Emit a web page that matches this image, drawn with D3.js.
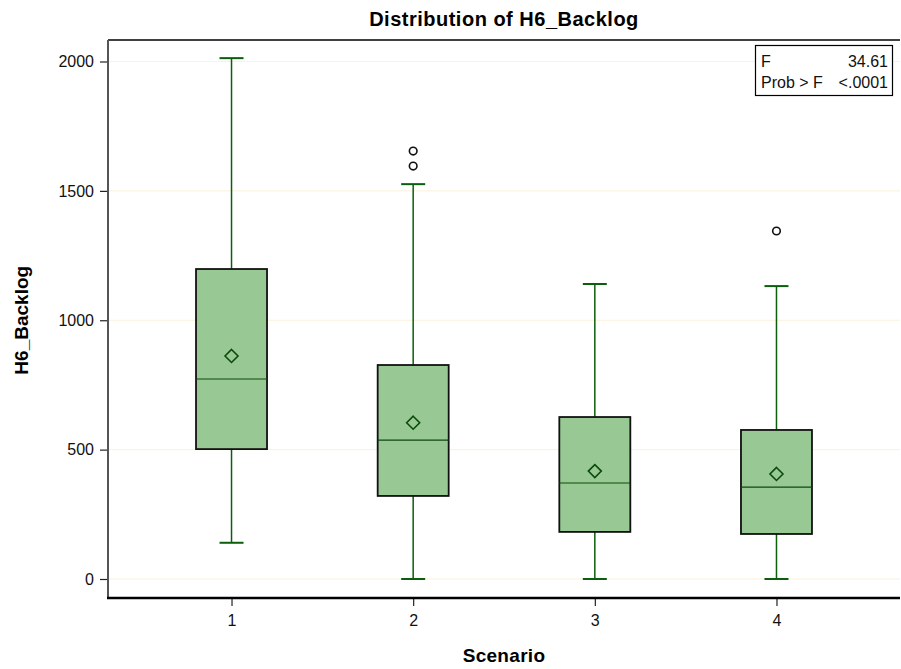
<!DOCTYPE html>
<html>
<head>
<meta charset="utf-8">
<script src="https://cdn.jsdelivr.net/npm/d3@7"></script>
<style>
  html, body { margin: 0; padding: 0; background: #fff; }
  svg { display: block; }
  text { font-family: "Liberation Sans", Arial, sans-serif; }
</style>
</head>
<body>
<svg id="chart" width="901" height="669"></svg>
<script>
// Scenario groups and their five-number summaries for H6_Backlog
const scenarios = ["1", "2", "3", "4"];
const whiskerLow  = [140, 0, 0, 0];
const q1          = [502, 321, 182, 174];
const median      = [773, 537, 371, 355];
const q3          = [1198, 827, 626, 576];
const whiskerHigh = [2013, 1526, 1140, 1132];
const means       = [862, 604, 417, 406];
const outliers    = [[], [1596, 1654], [], [1345]];
const yTicks      = [0, 500, 1000, 1500, 2000];
const anovaRows   = [["F", "34.61"], ["Prob > F", "<.0001"]];

const svg = d3.select("#chart");
const plotLeft = 108, plotRight = 900, plotTop = 40, plotBottom = 598;

const x = d3.scalePoint().domain(scenarios).range([plotLeft, plotRight]).padding(0.68);
const y = d3.scaleLinear().domain([0, 2000]).range([579, 61.5]);

// light grid lines
svg.append("g").selectAll("line").data(yTicks).join("line")
  .attr("x1", plotLeft).attr("x2", plotRight)
  .attr("y1", d => y(d)).attr("y2", d => y(d))
  .attr("stroke", "#fbf1dc").attr("stroke-width", 1);

// frame: top border and axes
svg.append("line").attr("x1", plotLeft).attr("x2", plotRight).attr("y1", plotTop).attr("y2", plotTop)
  .attr("stroke", "#000").attr("stroke-width", 1.5);

const yAxis = svg.append("g").attr("transform", `translate(${plotLeft},0)`)
  .call(d3.axisLeft(y).tickValues(yTicks).tickSize(8).tickPadding(6).tickFormat(d3.format("d")));
yAxis.select(".domain").remove();
yAxis.selectAll(".tick line").attr("stroke", "#222").attr("stroke-width", 1.2);
yAxis.selectAll(".tick text").attr("font-size", 16).attr("fill", "#111");
svg.append("line").attr("x1", plotLeft).attr("x2", plotLeft).attr("y1", plotTop).attr("y2", plotBottom)
  .attr("stroke", "#555").attr("stroke-width", 2);

const xAxis = svg.append("g").attr("transform", `translate(0,${plotBottom})`)
  .call(d3.axisBottom(x).tickSize(8).tickPadding(9));
xAxis.select(".domain").remove();
xAxis.selectAll(".tick line").attr("stroke", "#222").attr("stroke-width", 1.2);
xAxis.selectAll(".tick text").attr("font-size", 16).attr("fill", "#111");
svg.append("line").attr("x1", plotLeft - 1).attr("x2", plotRight).attr("y1", plotBottom).attr("y2", plotBottom)
  .attr("stroke", "#000").attr("stroke-width", 2.5);

// box plots
const boxW = 71;
const whiskerCap = 24;
const green = "#0b5e0b";
const g = svg.append("g");
scenarios.forEach((s, i) => {
  const cx = x(s);
  // whiskers
  g.append("line").attr("x1", cx).attr("x2", cx)
    .attr("y1", y(whiskerHigh[i])).attr("y2", y(q3[i]))
    .attr("stroke", green).attr("stroke-width", 1.5);
  g.append("line").attr("x1", cx).attr("x2", cx)
    .attr("y1", y(q1[i])).attr("y2", y(whiskerLow[i]))
    .attr("stroke", green).attr("stroke-width", 1.5);
  [whiskerHigh[i], whiskerLow[i]].forEach(v => {
    g.append("line").attr("x1", cx - whiskerCap / 2).attr("x2", cx + whiskerCap / 2)
      .attr("y1", y(v)).attr("y2", y(v))
      .attr("stroke", green).attr("stroke-width", 2);
  });
  // box
  g.append("rect").attr("x", cx - boxW / 2).attr("width", boxW)
    .attr("y", y(q3[i])).attr("height", y(q1[i]) - y(q3[i]))
    .attr("fill", "#98c995").attr("stroke", "#111").attr("stroke-width", 1.8);
  // median
  g.append("line").attr("x1", cx - boxW / 2).attr("x2", cx + boxW / 2)
    .attr("y1", y(median[i])).attr("y2", y(median[i]))
    .attr("stroke", "#0b4a0b").attr("stroke-width", 1.2);
  // mean diamond
  const my = y(means[i]), r = 6.5;
  g.append("path")
    .attr("d", `M${cx},${my - r}L${cx + r},${my}L${cx},${my + r}L${cx - r},${my}Z`)
    .attr("fill", "none").attr("stroke", "#0b4a0b").attr("stroke-width", 1.6);
  // outliers
  outliers[i].forEach(v => {
    g.append("circle").attr("cx", cx).attr("cy", y(v)).attr("r", 3.8)
      .attr("fill", "none").attr("stroke", "#111").attr("stroke-width", 1.6);
  });
});

// ANOVA inset
const lg = svg.append("g");
lg.append("rect").attr("x", 755.5).attr("y", 45.5).attr("width", 137).attr("height", 50)
  .attr("fill", "#fff").attr("stroke", "#000").attr("stroke-width", 1.2);
anovaRows.forEach((row, i) => {
  const by = 67 + i * 21;
  lg.append("text").attr("x", 761).attr("y", by).attr("font-size", 16).attr("fill", "#111").text(row[0]);
  lg.append("text").attr("x", 888).attr("y", by).attr("font-size", 16).attr("fill", "#111")
    .attr("text-anchor", "end").text(row[1]);
});

// titles
svg.append("text").attr("x", (plotLeft + plotRight) / 2).attr("y", 26)
  .attr("text-anchor", "middle").attr("font-size", 20).attr("font-weight", "bold")
  .attr("letter-spacing", 0.5)
  .text("Distribution of H6_Backlog");
svg.append("text").attr("x", (plotLeft + plotRight) / 2).attr("y", 662)
  .attr("text-anchor", "middle").attr("font-size", 19).attr("font-weight", "bold")
  .attr("letter-spacing", 0.3)
  .text("Scenario");
svg.append("text").attr("transform", `translate(28,${y(1000)}) rotate(-90)`)
  .attr("text-anchor", "middle").attr("font-size", 19).attr("font-weight", "bold")
  .text("H6_Backlog");
</script>
</body>
</html>
